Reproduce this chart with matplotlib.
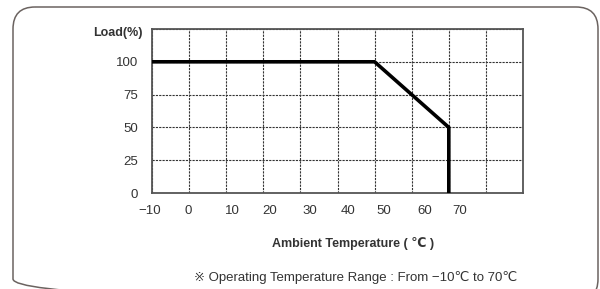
import matplotlib
matplotlib.use("Agg")
import matplotlib.pyplot as plt
import matplotlib.transforms as mtransforms
from matplotlib.patches import FancyBboxPatch

plt.rcParams['font.family'] = ['Liberation Sans', 'DejaVu Sans', 'Noto Sans CJK SC']

# derating curve
temp = [-10, 50, 70, 70]
load = [100, 100, 50, 0]

x_ticks = [-10, 0, 10, 20, 30, 40, 50, 60, 70]
y_ticks = [0, 25, 50, 75, 100]

fig = plt.figure(figsize=(6, 2.89), dpi=100)

# background axes in pixel units, just for the rounded frame
bg = fig.add_axes([0, 0, 1, 1])
bg.set_xlim(0, 600)
bg.set_ylim(289, 0)
bg.axis("off")
bg.add_patch(FancyBboxPatch((13, 7), 585, 294,
                            boxstyle="round,pad=0,rounding_size=22",
                            fill=False, edgecolor="#6b6360", linewidth=1.1,
                            clip_on=False))

ax = fig.add_axes([152 / 600, 1 - 193 / 289, 371 / 600, 164 / 289])
ax.plot(temp, load, color="black", linewidth=2.6, solid_capstyle="butt", zorder=3)

ax.set_xlim(-10, 90)
ax.set_ylim(0, 125)
ax.set_xticks(range(-10, 91, 10))
ax.set_xticklabels([str(t).replace("-", "\u2212") if t in x_ticks else ""
                    for t in range(-10, 91, 10)])
ax.set_yticks(range(0, 126, 25))
ax.set_yticklabels([str(t) if t in y_ticks else "" for t in range(0, 126, 25)])
ax.grid(True, color="#333333", linestyle=(0, (2, 1)), linewidth=0.8)
ax.tick_params(length=0, labelsize=9.5, colors="#333333")
ax.tick_params(axis="y", pad=10)
ax.tick_params(axis="x", pad=9)
for s in ax.spines.values():
    s.set_color("#555555")
    s.set_linewidth(1.3)

# the scanned chart has its x labels drifting to the right of the grid
shifts = [-2, -1, 6, 6, 9, 11, 9, 13, 11, 0, 0]
for lab, dx in zip(ax.get_xticklabels(), shifts):
    lab.set_transform(lab.get_transform() +
                      mtransforms.ScaledTranslation(dx / 100, 0, fig.dpi_scale_trans))

ax.text(-0.025, 0.975, "Load(%)", transform=ax.transAxes, ha="right", va="center",
        fontsize=9, fontweight="bold", color="#333333")
fig.text(353 / 600, 1 - 243 / 289, "Ambient Temperature ( \u2103 )", ha="center",
         va="center", fontsize=9, fontweight="bold", color="#333333")
fig.text(356 / 600, 1 - 277 / 289,
         "\u203b Operating Temperature Range : From \u221210\u2103 to 70\u2103",
         ha="center", va="center", fontsize=9.5, color="#333333")

fig.savefig("out.png", dpi=100)
